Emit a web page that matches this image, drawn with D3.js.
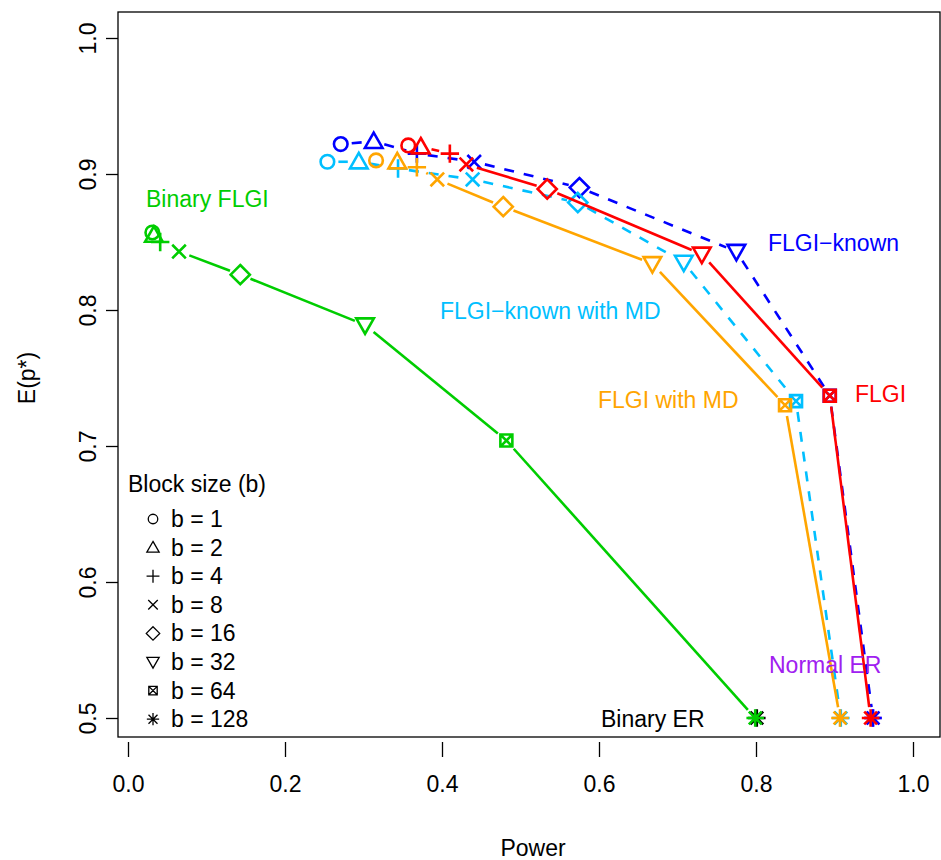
<!DOCTYPE html>
<html>
<head>
<meta charset="utf-8">
<script src="https://cdn.jsdelivr.net/npm/d3@7"></script>
<style>
  body { margin: 0; background: #fff; }
  text { font-family: "Liberation Sans", Arial, sans-serif; }
</style>
</head>
<body>
<script>
// block sizes, one marker per size
var blockSizes = [1, 2, 4, 8, 16, 32, 64, 128];
var blockLabels = ["b = 1", "b = 2", "b = 4", "b = 8", "b = 16", "b = 32", "b = 64", "b = 128"];

// power (x) and E(p*) (y) per method
var flgiKnownX = [0.271, 0.313, 0.368, 0.441, 0.575, 0.775, 0.894, 0.949];
var flgiKnownY = [0.922, 0.924, 0.915, 0.909, 0.890, 0.843, 0.737, 0.500];
var flgiKnownMdX = [0.254, 0.294, 0.344, 0.439, 0.573, 0.708, 0.851, 0.908];
var flgiKnownMdY = [0.909, 0.909, 0.904, 0.896, 0.879, 0.835, 0.733, 0.500];
var flgiMdX = [0.316, 0.343, 0.368, 0.394, 0.478, 0.668, 0.837, 0.907];
var flgiMdY = [0.910, 0.909, 0.905, 0.896, 0.876, 0.834, 0.730, 0.500];
var flgiX = [0.357, 0.373, 0.410, 0.431, 0.534, 0.731, 0.894, 0.946];
var flgiY = [0.921, 0.920, 0.915, 0.907, 0.889, 0.841, 0.737, 0.500];
var binFlgiX = [0.031, 0.033, 0.041, 0.065, 0.143, 0.302, 0.482, 0.799];
var binFlgiY = [0.857, 0.855, 0.850, 0.843, 0.826, 0.789, 0.704, 0.500];

// single-point references (b = 128)
var binaryErX = [0.801], binaryErY = [0.500];
var normalErX = [0.949], normalErY = [0.500];

var xTicks = [0, 0.2, 0.4, 0.6, 0.8, 1.0];
var yTicks = [0.5, 0.6, 0.7, 0.8, 0.9, 1.0];

var width = 941, height = 860;
var boxL = 118, boxR = 940, boxT = 12, boxB = 737;
var fs = 23;

var x = d3.scaleLinear().domain([0, 1]).range([128, 913]);
var y = d3.scaleLinear().domain([0.5, 1]).range([718, 38]);

var svg = d3.select("body").append("svg")
    .attr("width", width)
    .attr("height", height);

// R style plotting symbols, pch 1..8
function symbolPath(pch, s) {
  var p = d3.path();
  var r = s;
  if (pch === 1) {
    p.moveTo(r * 0.85, 0); p.arc(0, 0, r * 0.85, 0, 2 * Math.PI);
  } else if (pch === 2) {
    var h = r * 1.1;
    p.moveTo(0, -h); p.lineTo(h * 1.0, h * 0.75); p.lineTo(-h * 1.0, h * 0.75); p.closePath();
  } else if (pch === 3) {
    p.moveTo(-r * 1.15, 0); p.lineTo(r * 1.15, 0); p.moveTo(0, -r * 1.15); p.lineTo(0, r * 1.15);
  } else if (pch === 4) {
    var a = r * 0.85;
    p.moveTo(-a, -a); p.lineTo(a, a); p.moveTo(-a, a); p.lineTo(a, -a);
  } else if (pch === 5) {
    var d = r * 1.2;
    p.moveTo(0, -d); p.lineTo(d, 0); p.lineTo(0, d); p.lineTo(-d, 0); p.closePath();
  } else if (pch === 6) {
    var h2 = r * 1.1;
    p.moveTo(0, h2); p.lineTo(h2, -h2 * 0.75); p.lineTo(-h2, -h2 * 0.75); p.closePath();
  } else if (pch === 7) {
    var q = r * 0.75;
    p.rect(-q, -q, 2 * q, 2 * q);
    p.moveTo(-q, -q); p.lineTo(q, q); p.moveTo(-q, q); p.lineTo(q, -q);
  } else if (pch === 8) {
    var t = r * 1.1, u = r * 0.8;
    p.moveTo(-t, 0); p.lineTo(t, 0); p.moveTo(0, -t); p.lineTo(0, t);
    p.moveTo(-u, -u); p.lineTo(u, u); p.moveTo(-u, u); p.lineTo(u, -u);
  }
  return p.toString();
}

// frame
svg.append("rect")
   .attr("x", boxL).attr("y", boxT)
   .attr("width", boxR - boxL).attr("height", boxB - boxT)
   .attr("fill", "none").attr("stroke", "#000").attr("stroke-width", 1.3);

// x axis
var xAxis = svg.append("g")
   .attr("transform", "translate(0," + (boxB + 5) + ")")
   .call(d3.axisBottom(x).tickValues(xTicks).tickFormat(d3.format(".1f"))
         .tickSize(15).tickPadding(19));
xAxis.select(".domain").remove();
xAxis.selectAll("line").attr("stroke-width", 1.3);
xAxis.selectAll("text").attr("font-size", fs).attr("fill", "#000")
     .attr("font-family", "Liberation Sans, Arial, sans-serif");

// y axis
var yAxis = svg.append("g")
   .attr("transform", "translate(" + boxL + ",0)")
   .call(d3.axisLeft(y).tickValues(yTicks).tickFormat(d3.format(".1f")).tickSize(12));
yAxis.select(".domain").remove();
yAxis.selectAll("line").attr("stroke-width", 1.3);
yAxis.selectAll("text")
     .attr("font-size", fs).attr("fill", "#000")
     .attr("font-family", "Liberation Sans, Arial, sans-serif")
     .attr("x", 0).attr("dy", 0)
     .attr("text-anchor", "middle")
     .attr("transform", "translate(-22,0) rotate(-90)");

// axis titles
svg.append("text").attr("x", 533).attr("y", 856)
   .attr("text-anchor", "middle").attr("font-size", fs).text("Power");
svg.append("text")
   .attr("transform", "translate(35,378) rotate(-90)")
   .attr("text-anchor", "middle").attr("font-size", fs).text("E(p*)");

// one series: connecting line with gaps, then markers
function drawSeries(xs, ys, color, dashed) {
  var g = svg.append("g");
  var gap = 11;
  for (var i = 0; i < xs.length - 1; i++) {
    var x1 = x(xs[i]), y1 = y(ys[i]), x2 = x(xs[i + 1]), y2 = y(ys[i + 1]);
    var len = Math.hypot(x2 - x1, y2 - y1);
    if (len <= 2 * gap) continue;
    var ux = (x2 - x1) / len, uy = (y2 - y1) / len;
    g.append("line")
     .attr("x1", x1 + ux * gap).attr("y1", y1 + uy * gap)
     .attr("x2", x2 - ux * gap).attr("y2", y2 - uy * gap)
     .attr("stroke", color).attr("stroke-width", 2.6)
     .attr("stroke-dasharray", dashed ? "10,10" : null);
  }
  g.selectAll("path.pt")
   .data(xs.map(function(v, i) { return { x: v, y: ys[i], pch: i + 1 }; }))
   .enter().append("path")
   .attr("class", "pt")
   .attr("transform", function(d) { return "translate(" + x(d.x) + "," + y(d.y) + ")"; })
   .attr("d", function(d) { return symbolPath(d.pch, 8); })
   .attr("fill", "none").attr("stroke", color).attr("stroke-width", 2.6);
}

function drawSingle(xs, ys, color) {
  svg.append("path")
     .attr("transform", "translate(" + x(xs[0]) + "," + y(ys[0]) + ")")
     .attr("d", symbolPath(8, 8))
     .attr("fill", "none").attr("stroke", color).attr("stroke-width", 2.6);
}

drawSingle(binaryErX, binaryErY, "#000000");
drawSingle(normalErX, normalErY, "#A020F0");
drawSeries(flgiKnownX, flgiKnownY, "#0000FF", true);
drawSeries(flgiKnownMdX, flgiKnownMdY, "#00BFFF", true);
drawSeries(flgiMdX, flgiMdY, "#FFA500", false);
drawSeries(flgiX, flgiY, "#FF0000", false);
drawSeries(binFlgiX, binFlgiY, "#00CD00", false);

// series labels
var labels = [
  { t: "Binary FLGI", x: 146, y: 207, c: "#00CD00" },
  { t: "FLGI\u2212known", x: 768, y: 251, c: "#0000FF" },
  { t: "FLGI\u2212known with MD", x: 440, y: 319, c: "#00BFFF" },
  { t: "FLGI with MD", x: 598, y: 408, c: "#FFA500" },
  { t: "FLGI", x: 855, y: 402, c: "#FF0000" },
  { t: "Normal ER", x: 769, y: 673, c: "#A020F0" },
  { t: "Binary ER", x: 601, y: 727, c: "#000000" }
];
svg.selectAll("text.lab").data(labels).enter().append("text")
   .attr("class", "lab")
   .attr("x", function(d) { return d.x; }).attr("y", function(d) { return d.y; })
   .attr("font-size", fs).attr("fill", function(d) { return d.c; })
   .text(function(d) { return d.t; });

// legend
svg.append("text").attr("x", 128).attr("y", 492).attr("font-size", fs).text("Block size (b)");
var leg = svg.append("g");
blockSizes.forEach(function(b, i) {
  var cy = 519 + i * 28.6;
  leg.append("path")
     .attr("transform", "translate(153," + cy + ")")
     .attr("d", symbolPath(i + 1, 5.6))
     .attr("fill", "none").attr("stroke", "#000").attr("stroke-width", 1.3);
  leg.append("text").attr("x", 171).attr("y", cy + 8)
     .attr("font-size", fs).text(blockLabels[i]);
});
</script>
</body>
</html>
